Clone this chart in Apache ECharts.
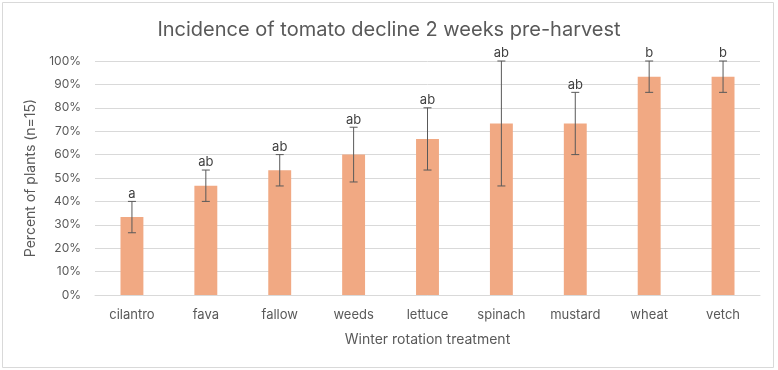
<!DOCTYPE html>
<html><head><meta charset="utf-8">
<script src="https://cdn.jsdelivr.net/npm/echarts@6/dist/echarts.min.js"></script>
<style>html,body{margin:0;padding:0;background:#fff}#c{width:778px;height:370px}</style>
</head><body><div id="c"></div>
<script>
const categories = ['cilantro','fava','fallow','weeds','lettuce','spinach','mustard','wheat','vetch'];
const values = [33.3, 46.7, 53.3, 60.0, 66.7, 73.3, 73.3, 93.3, 93.3];
const errors = [6.7, 6.7, 6.7, 11.7, 13.3, 26.7, 13.3, 6.7, 6.7];
const letters = ['a','ab','ab','ab','ab','ab','ab','b','b'];
const yTicks = [0,10,20,30,40,50,60,70,80,90,100];

const font = 'Inter, "Noto Sans", sans-serif';
const chart = echarts.init(document.getElementById('c'), null, {renderer:'canvas'});
const errData = values.map((v,i)=>[i, v-errors[i], v+errors[i], letters[i]]);
chart.setOption({
  animation:false,
  title:{text:'Incidence of tomato decline 2 weeks pre-harvest', left:'center', top:15,
    textStyle:{fontFamily:font, fontSize:20, fontWeight:'normal', color:'#595959'}},
  graphic:[{type:'rect', shape:{x:2.5,y:2.5,width:771,height:365}, style:{fill:null, stroke:'#d9d9d9', lineWidth:1}, silent:true}],
  grid:{left:95, right:18, top:61, bottom:75},
  xAxis:{type:'category', data:categories, name:'Winter rotation treatment', nameLocation:'middle', nameGap:38,
    nameTextStyle:{fontFamily:font, fontSize:14, color:'#595959'},
    axisLine:{lineStyle:{color:'#d9d9d9'}}, axisTick:{show:false},
    axisLabel:{fontFamily:font, fontSize:13, color:'#595959', margin:14}},
  yAxis:{type:'value', min:0, max:100, interval:10, name:'Percent of plants (n=15)', nameLocation:'middle', nameGap:55,
    nameTextStyle:{fontFamily:font, fontSize:14, color:'#595959'},
    axisLabel:{fontFamily:font, fontSize:12, color:'#595959', margin:14, formatter: v => yTicks.includes(v) ? v+'%' : ''},
    splitLine:{lineStyle:{color:'#d9d9d9'}}, axisLine:{show:false}},
  series:[
    {type:'bar', data:values, barWidth:'31%', itemStyle:{color:'#f1a983'}},
    {type:'custom', data:errData, z:5,
      renderItem:(params, api)=>{
        const x = api.coord([api.value(0), 0])[0];
        const lo = api.coord([api.value(0), api.value(1)])[1];
        const hi = api.coord([api.value(0), api.value(2)])[1];
        const c = 4, st = {stroke:'#595959', lineWidth:1};
        return {type:'group', children:[
          {type:'line', shape:{x1:x,y1:lo,x2:x,y2:hi}, style:st},
          {type:'line', shape:{x1:x-c,y1:lo,x2:x+c,y2:lo}, style:st},
          {type:'line', shape:{x1:x-c,y1:hi,x2:x+c,y2:hi}, style:st},
          {type:'text', style:{text:letters[params.dataIndex], x:x, y:hi-1, textAlign:'center', textVerticalAlign:'bottom',
            font:'13px '+font, fill:'#404040'}}
        ]};
      }}
  ]
});
</script></body></html>
